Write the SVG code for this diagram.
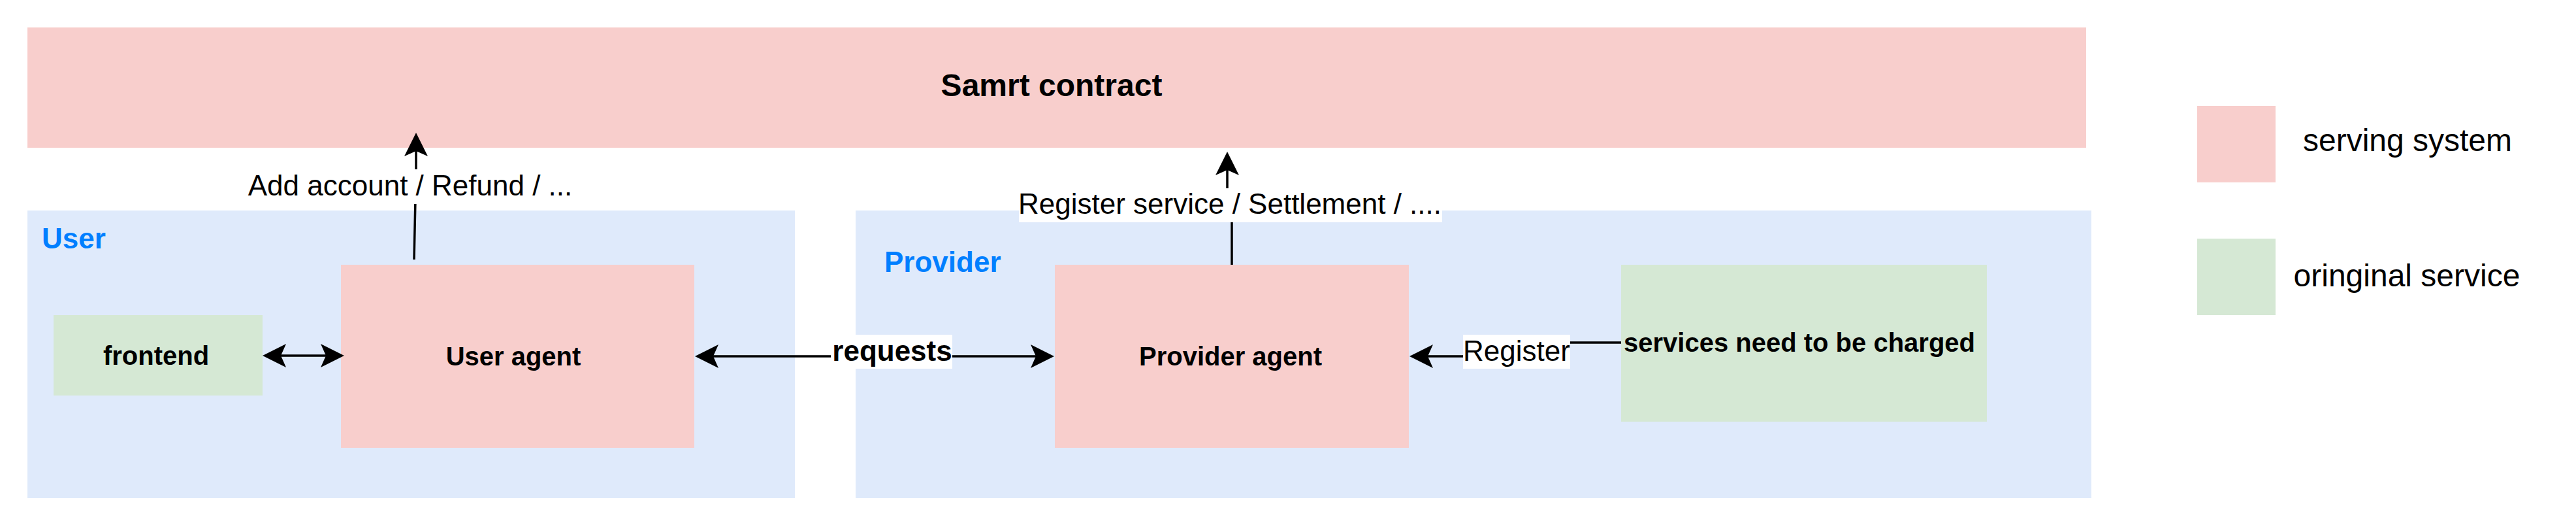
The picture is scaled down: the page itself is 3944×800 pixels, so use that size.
<svg xmlns="http://www.w3.org/2000/svg" width="3944" height="800" viewBox="0 0 3944 800">
  <style>
    text { font-family: "Liberation Sans", Arial, Helvetica, sans-serif; fill: #000000; }
    .pink { fill: #F8CECC; }
    .green { fill: #D5E8D4; }
    .blue { fill: #DFEAFB; }
    .node { font-size: 40px; font-weight: bold; text-anchor: middle; }
    .group { font-size: 44px; font-weight: bold; fill: #007FFF; }
    .elabel { font-size: 44px; text-anchor: middle; }
    .legend { font-size: 48px; text-anchor: middle; }
    .edge { fill: none; stroke: #000000; stroke-width: 3.5; }
    .lbg { fill: #FFFFFF; }
  </style>
  <defs>
    <marker id="arrow" viewBox="0 0 36 36" refX="8" refY="18" markerWidth="36" markerHeight="36" markerUnits="userSpaceOnUse" orient="auto-start-reverse">
      <path d="M36,18 L0,0 L8,18 L0,36 Z" fill="#000000"/>
    </marker>
  </defs>
  <rect width="3944" height="800" fill="#FFFFFF"/>

  <g id="smart-contract">
    <rect class="pink" x="42" y="42" width="3152" height="184"/>
    <text x="1610" y="147" style="font-size:48px;font-weight:bold;text-anchor:middle">Samrt contract</text>
  </g>

  <g id="user-group">
    <rect class="blue" x="42" y="322" width="1175" height="440"/>
    <text class="group" x="64" y="380">User</text>
  </g>

  <g id="provider-group">
    <rect class="blue" x="1310" y="322" width="1892" height="440"/>
    <text class="group" x="1354" y="416">Provider</text>
  </g>

  <g id="frontend">
    <rect class="green" x="82" y="482" width="320" height="123"/>
    <text class="node" x="239" y="558">frontend</text>
  </g>

  <g id="user-agent">
    <rect class="pink" x="522" y="405" width="541" height="280"/>
    <text class="node" x="786" y="559">User agent</text>
  </g>

  <g id="provider-agent">
    <rect class="pink" x="1615" y="405" width="542" height="280"/>
    <text class="node" x="1884" y="559">Provider agent</text>
  </g>

  <g id="services">
    <rect class="green" x="2482" y="405" width="560" height="240"/>
    <text class="node" x="2755" y="538">services need to be charged</text>
  </g>

  <g id="legend">
    <rect class="pink" x="3364" y="162" width="120" height="117"/>
    <text class="legend" x="3686" y="231">serving system</text>
    <rect class="green" x="3364" y="365" width="120" height="117"/>
    <text class="legend" x="3685" y="438">oringinal service</text>
  </g>

  <g id="connectors">
    <path class="edge" d="M430,544 H499" marker-start="url(#arrow)" marker-end="url(#arrow)"/>

    <path class="edge" d="M634,397 L637,259 V231" marker-end="url(#arrow)"/>
    <rect class="lbg" x="380" y="259" width="496" height="53"/>
    <text class="elabel" x="628" y="299">Add account / Refund / ...</text>

    <path class="edge" d="M1092,545 H1586" marker-start="url(#arrow)" marker-end="url(#arrow)"/>
    <rect class="lbg" x="1272" y="512" width="186" height="52"/>
    <text class="elabel" x="1366" y="552" style="font-weight:bold">requests</text>

    <path class="edge" d="M1886,405 V330 L1879,300 V260" marker-end="url(#arrow)"/>
    <rect class="lbg" x="1560" y="288" width="648" height="52"/>
    <text class="elabel" x="1883" y="327">Register service / Settlement / ....</text>

    <path class="edge" d="M2482,524 H2322 V545 H2186" marker-end="url(#arrow)"/>
    <rect class="lbg" x="2240" y="512" width="164" height="52"/>
    <text class="elabel" x="2322" y="552">Register</text>
  </g>
</svg>
